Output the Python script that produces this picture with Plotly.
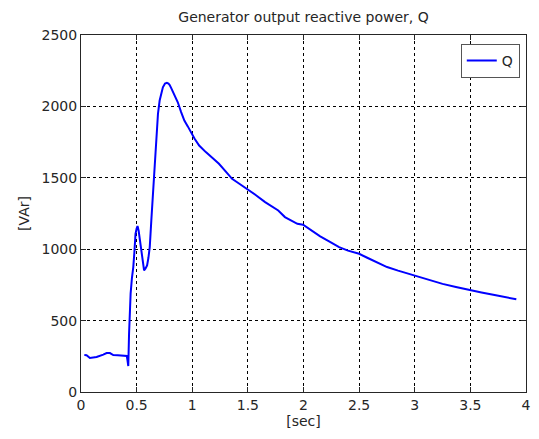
import plotly.graph_objects as go

# Sampled generator reactive power trace
t_sec = [0.03, 0.05, 0.08, 0.14, 0.2, 0.23, 0.26, 0.29, 0.33, 0.37, 0.404, 0.412, 0.418, 0.425,
         0.432, 0.438, 0.446, 0.458, 0.47, 0.48, 0.49, 0.5, 0.508, 0.518, 0.529, 0.545, 0.558,
         0.567, 0.58, 0.594, 0.606, 0.618, 0.632, 0.647, 0.662, 0.677, 0.692, 0.707, 0.722,
         0.736, 0.755, 0.772, 0.786, 0.796, 0.81, 0.825, 0.85, 0.87, 0.9, 0.929, 0.96, 0.988,
         1.02, 1.062, 1.09, 1.122, 1.18, 1.24, 1.3, 1.358, 1.42, 1.492, 1.57, 1.655, 1.72,
         1.773, 1.833, 1.9, 1.945, 1.996, 2.07, 2.15, 2.23, 2.32, 2.4, 2.5, 2.573, 2.65, 2.751,
         2.85, 2.988, 3.06, 3.136, 3.25, 3.37, 3.492, 3.6, 3.729, 3.82, 3.913]
q_var = [259, 258, 238, 245, 262, 273, 273, 259, 258, 255, 257, 252, 222, 182,
         409, 560, 689, 800, 875, 980, 1108, 1145, 1162, 1130, 1062, 970, 898,
         852, 865, 887, 940, 1015, 1200, 1388, 1600, 1808, 1950, 2041, 2100,
         2134, 2160, 2165, 2160, 2151, 2130, 2106, 2070, 2029, 1960, 1901, 1860, 1819,
         1775, 1726, 1702, 1680, 1640, 1598, 1545, 1493, 1460, 1423, 1380, 1330, 1295,
         1271, 1225, 1200, 1178, 1171, 1131, 1090, 1055, 1015, 990, 968, 940, 912, 875,
         850, 817, 800, 782, 757, 735, 712, 697, 677, 664, 649]

x_ticks = [0, 0.5, 1, 1.5, 2, 2.5, 3, 3.5, 4]
x_tick_text = ["0", "0.5", "1", "1.5", "2", "2.5", "3", "3.5", "4"]
y_ticks = [0, 500, 1000, 1500, 2000, 2500]

FONT = "DejaVu Sans"
TXT = "#262626"

fig = go.Figure()
fig.add_trace(go.Scatter(x=t_sec, y=q_var, mode="lines", name="Q",
                         line=dict(color="#0000ff", width=2)))

axis_common = dict(
    showline=True, linecolor="#262626", linewidth=1, mirror="ticks",
    ticks="inside", ticklen=5, tickcolor="#262626", tickwidth=1,
    showgrid=True, gridcolor="#000000", gridwidth=1, griddash="3px,3px",
    zeroline=False, tickfont=dict(family=FONT, size=14, color=TXT),
)

fig.update_xaxes(range=[0, 4], tickvals=x_ticks, ticktext=x_tick_text,
                 title=dict(text="[sec]", font=dict(family=FONT, size=14, color=TXT), standoff=4),
                 **axis_common)
fig.update_yaxes(range=[0, 2500], tickvals=y_ticks,
                 title=dict(text="[VAr]", font=dict(family=FONT, size=14, color=TXT), standoff=8),
                 **axis_common)

fig.update_layout(
    width=539, height=439,
    margin=dict(l=80.5, r=8.5, t=34.5, b=47.3),
    paper_bgcolor="white", plot_bgcolor="white",
    title=dict(text="Generator output reactive power, Q", x=0.5, xanchor="center",
               xref="paper", y=0.962, yanchor="middle",
               font=dict(family=FONT, size=14, color=TXT)),
    showlegend=True,
    legend=dict(x=0.986, xanchor="right", y=0.975, yanchor="top",
                bordercolor="#555555", borderwidth=1, bgcolor="white",
                font=dict(family=FONT, size=14, color=TXT)),
)

fig.write_html("out.html")
